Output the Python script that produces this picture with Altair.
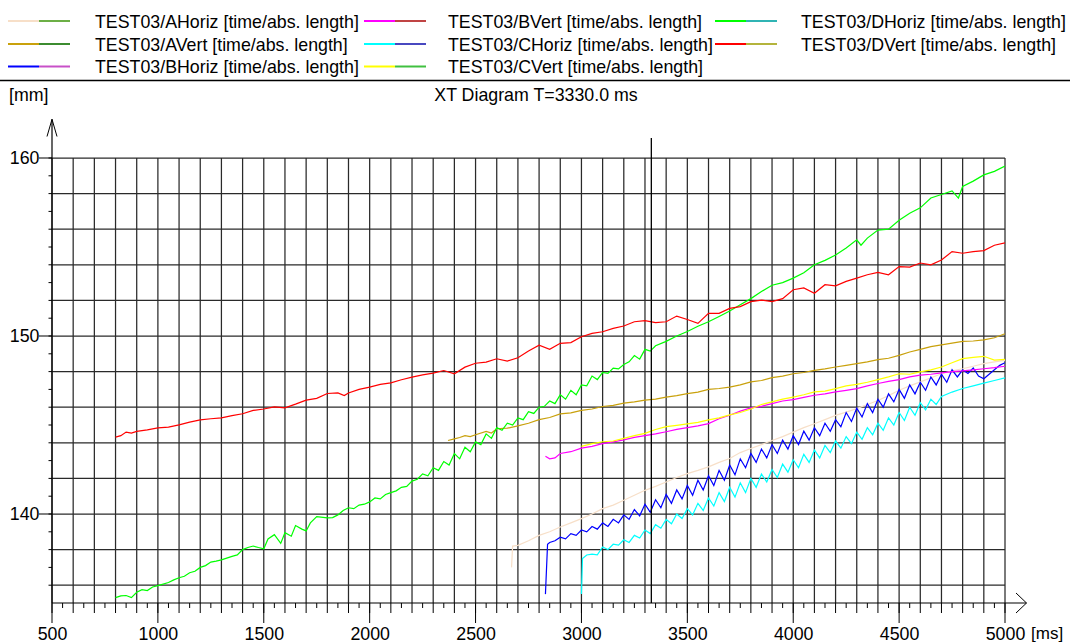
import altair as alt
import pandas as pd

# ---------------- data ----------------
SERIES = ["AHoriz", "AVert", "BHoriz", "BVert", "CHoriz", "CVert", "DHoriz", "DVert"]
LEGEND_LABELS = ["TEST03/" + s + " [time/abs. length]" for s in SERIES]
LINE_COLORS = ["#F7DFC8", "#C9A10C", "#0000FF", "#FF00FF", "#00FFFF", "#FFFF00", "#00FF00", "#FF0000"]
SWATCH_B = ["#6CAF46", "#3C8C30", "#C850C8", "#C04444", "#4848C0", "#40C040", "#30B4B4", "#B4B43C"]

AHORIZ = [(2670, 137.0), (2675, 138.2), (2700, 138.24), (2750, 138.5), (2800, 138.8), (2850, 139.0),
          (2900, 139.27), (2950, 139.5), (3000, 139.74), (3050, 140.0), (3100, 140.3), (3150, 140.5),
          (3200, 140.77), (3250, 141.05), (3300, 141.33), (3350, 141.55), (3400, 141.8), (3450, 142.05),
          (3500, 142.27), (3550, 142.45), (3600, 142.65), (3650, 142.9), (3700, 143.12), (3750, 143.45),
          (3800, 143.68), (3850, 143.9), (3900, 144.13), (3950, 144.35), (4000, 144.6), (4050, 144.85),
          (4100, 145.07), (4150, 145.3), (4200, 145.54), (4250, 145.72), (4300, 145.92), (4350, 146.15),
          (4400, 146.38), (4450, 146.65), (4500, 146.95), (4550, 147.2), (4600, 147.42), (4650, 147.65),
          (4700, 147.88), (4750, 148.05), (4800, 148.16), (4850, 148.3), (4900, 148.45), (4950, 148.55),
          (5000, 148.63)]

AVERT = [(2370, 144.13), (2400, 144.22), (2425, 144.3), (2450, 144.4), (2475, 144.35), (2500, 144.45),
         (2550, 144.64), (2575, 144.55), (2600, 144.79), (2650, 144.82), (2700, 144.95), (2750, 145.1),
         (2800, 145.3), (2850, 145.42), (2900, 145.62), (2950, 145.68), (3000, 145.82), (3050, 145.9),
         (3100, 146.04), (3150, 146.1), (3200, 146.23), (3250, 146.3), (3300, 146.4), (3350, 146.45),
         (3400, 146.57), (3450, 146.65), (3500, 146.76), (3550, 146.85), (3600, 147.0), (3650, 147.05),
         (3700, 147.13), (3750, 147.25), (3800, 147.42), (3850, 147.5), (3900, 147.66), (3950, 147.75),
         (4000, 147.88), (4050, 147.95), (4100, 148.07), (4150, 148.15), (4200, 148.26), (4250, 148.35),
         (4300, 148.45), (4350, 148.55), (4400, 148.67), (4450, 148.75), (4500, 148.91), (4550, 149.1),
         (4600, 149.25), (4650, 149.4), (4700, 149.5), (4750, 149.6), (4800, 149.7), (4850, 149.72),
         (4900, 149.78), (4950, 149.9), (5000, 150.13)]

BHORIZ = [(2830, 135.5), (2840, 138.3), (2850, 138.4), (2875, 138.5), (2900, 138.7), (2925, 138.6),
          (2950, 138.9), (2975, 138.8), (3000, 139.1), (3025, 139.0), (3050, 139.3), (3075, 139.15),
          (3100, 139.5), (3125, 139.3), (3150, 139.7), (3175, 139.5), (3200, 139.95), (3225, 139.7),
          (3250, 140.25), (3275, 139.9), (3300, 140.55), (3325, 140.1), (3350, 140.8), (3375, 140.35),
          (3400, 141.1), (3425, 140.6), (3450, 141.35), (3475, 140.85), (3500, 141.6), (3525, 141.05),
          (3550, 141.9), (3575, 141.35), (3600, 142.15), (3625, 141.6), (3650, 142.45), (3675, 141.9),
          (3700, 142.75), (3725, 142.2), (3750, 143.1), (3775, 142.6), (3800, 143.4), (3825, 142.9),
          (3850, 143.65), (3875, 143.15), (3900, 143.9), (3925, 143.4), (3950, 144.15), (3975, 143.65),
          (4000, 144.4), (4025, 143.9), (4050, 144.65), (4075, 144.15), (4100, 144.85), (4125, 144.4),
          (4150, 145.1), (4175, 144.65), (4200, 145.3), (4225, 144.9), (4250, 145.7), (4275, 145.2),
          (4300, 145.95), (4325, 145.45), (4350, 146.2), (4375, 145.7), (4400, 146.45), (4425, 146.0),
          (4450, 146.75), (4475, 146.3), (4500, 147.0), (4525, 146.5), (4550, 147.25), (4575, 146.75),
          (4600, 147.4), (4625, 146.95), (4650, 147.7), (4675, 147.25), (4700, 147.85), (4725, 147.4),
          (4750, 148.1), (4775, 147.7), (4800, 148.1), (4825, 147.9), (4850, 148.2), (4875, 147.75),
          (4900, 147.6), (4925, 147.85), (4950, 148.1), (4975, 148.35), (5000, 148.5)]

BVERT = [(2830, 143.25), (2850, 143.1), (2875, 143.15), (2900, 143.4), (2950, 143.5), (3000, 143.7),
         (3050, 143.8), (3100, 143.95), (3150, 144.05), (3200, 144.16), (3250, 144.3), (3300, 144.4),
         (3350, 144.5), (3400, 144.62), (3450, 144.75), (3500, 144.85), (3550, 144.95), (3600, 145.08),
         (3650, 145.35), (3700, 145.55), (3750, 145.78), (3800, 145.96), (3850, 146.05), (3900, 146.2),
         (3950, 146.35), (4000, 146.43), (4050, 146.55), (4100, 146.67), (4150, 146.75), (4200, 146.86),
         (4250, 146.95), (4300, 147.04), (4350, 147.2), (4400, 147.33), (4450, 147.45), (4500, 147.55),
         (4550, 147.7), (4600, 147.8), (4650, 147.85), (4700, 147.93), (4750, 148.0), (4800, 148.04),
         (4850, 148.1), (4900, 148.16), (4950, 148.22), (5000, 148.3)]

CHORIZ = [(3000, 135.5), (3005, 137.5), (3025, 137.7), (3050, 137.75), (3075, 137.7), (3100, 138.15),
          (3125, 138.0), (3150, 138.3), (3175, 138.25), (3200, 138.55), (3225, 138.4), (3250, 138.8),
          (3275, 138.65), (3300, 139.1), (3325, 138.9), (3350, 139.4), (3375, 139.2), (3400, 139.7),
          (3425, 139.45), (3450, 140.0), (3475, 139.75), (3500, 140.3), (3525, 139.95), (3550, 140.6),
          (3575, 140.2), (3600, 140.9), (3625, 140.45), (3650, 141.2), (3675, 140.7), (3700, 141.5),
          (3725, 140.95), (3750, 141.75), (3775, 141.2), (3800, 142.0), (3825, 141.5), (3850, 142.25),
          (3875, 141.8), (3900, 142.5), (3925, 142.05), (3950, 142.8), (3975, 142.35), (4000, 143.05),
          (4025, 142.6), (4050, 143.35), (4075, 142.9), (4100, 143.6), (4125, 143.15), (4150, 143.85),
          (4175, 143.45), (4200, 144.1), (4225, 143.7), (4250, 144.35), (4275, 143.95), (4300, 144.6),
          (4325, 144.2), (4350, 144.85), (4375, 144.45), (4400, 145.1), (4425, 144.7), (4450, 145.4),
          (4475, 145.0), (4500, 145.7), (4525, 145.25), (4550, 146.0), (4575, 145.55), (4600, 146.25),
          (4625, 145.85), (4650, 146.45), (4675, 146.15), (4700, 146.6), (4750, 146.85), (4800, 147.05),
          (4850, 147.2), (4900, 147.35), (4950, 147.5), (5000, 147.65)]

CVERT = [(3000, 143.8), (3050, 143.95), (3100, 144.06), (3150, 144.1), (3200, 144.25), (3250, 144.4),
         (3300, 144.53), (3350, 144.75), (3400, 144.91), (3450, 144.98), (3500, 145.06), (3550, 145.15),
         (3600, 145.29), (3650, 145.4), (3700, 145.57), (3750, 145.7), (3800, 145.9), (3850, 146.15),
         (3900, 146.3), (3950, 146.45), (4000, 146.57), (4050, 146.7), (4100, 146.86), (4150, 146.9),
         (4200, 147.04), (4250, 147.2), (4300, 147.28), (4350, 147.4), (4400, 147.55), (4450, 147.7),
         (4500, 147.88), (4550, 147.85), (4600, 147.98), (4650, 148.1), (4700, 148.26), (4750, 148.5),
         (4800, 148.73), (4850, 148.8), (4900, 148.86), (4950, 148.65), (5000, 148.69)]

DHORIZ = [(800, 135.3), (825, 135.4), (850, 135.42), (875, 135.3), (900, 135.6), (925, 135.75),
          (950, 135.7), (975, 135.9), (1000, 135.98), (1050, 136.15), (1075, 136.3), (1100, 136.42),
          (1125, 136.5), (1150, 136.7), (1175, 136.78), (1200, 137.0), (1225, 137.1), (1250, 137.3),
          (1275, 137.35), (1300, 137.42), (1350, 137.62), (1375, 137.7), (1400, 138.0), (1425, 138.12),
          (1450, 138.2), (1475, 138.12), (1500, 138.05), (1520, 138.6), (1550, 138.84), (1580, 138.35),
          (1600, 138.95), (1630, 138.75), (1650, 139.35), (1680, 139.15), (1700, 139.05), (1720, 139.5),
          (1750, 139.85), (1800, 139.78), (1825, 139.8), (1850, 139.95), (1875, 140.2), (1900, 140.35),
          (1925, 140.3), (1950, 140.5), (1975, 140.55), (2000, 140.68), (2025, 140.9), (2050, 140.85),
          (2075, 141.1), (2100, 141.2), (2125, 141.3), (2150, 141.5), (2175, 141.55), (2200, 141.85),
          (2225, 141.95), (2250, 142.25), (2275, 142.15), (2300, 142.6), (2325, 142.45), (2350, 142.95),
          (2375, 142.75), (2400, 143.4), (2425, 143.1), (2450, 143.75), (2475, 143.5), (2500, 144.05),
          (2525, 143.9), (2550, 144.5), (2575, 144.25), (2600, 144.85), (2625, 144.7), (2650, 145.1),
          (2675, 145.0), (2700, 145.4), (2725, 145.3), (2750, 145.75), (2775, 145.65), (2800, 146.0),
          (2825, 146.05), (2850, 146.35), (2875, 146.2), (2900, 146.7), (2925, 146.45), (2950, 146.95),
          (2975, 146.7), (3000, 147.25), (3025, 147.2), (3050, 147.75), (3075, 147.55), (3100, 147.95),
          (3125, 147.9), (3150, 148.2), (3175, 148.15), (3200, 148.4), (3225, 148.55), (3250, 148.9),
          (3275, 148.7), (3300, 149.25), (3325, 149.15), (3350, 149.45), (3400, 149.7), (3450, 150.0),
          (3500, 150.25), (3550, 150.55), (3600, 150.8), (3650, 151.1), (3700, 151.4), (3750, 151.75),
          (3800, 152.1), (3850, 152.5), (3900, 152.85), (3950, 153.0), (4000, 153.25), (4050, 153.55),
          (4100, 154.0), (4150, 154.25), (4200, 154.55), (4250, 154.95), (4300, 155.4), (4320, 155.1),
          (4350, 155.5), (4400, 155.95), (4450, 156.0), (4500, 156.5), (4550, 156.9), (4600, 157.2),
          (4650, 157.75), (4700, 157.95), (4750, 158.15), (4780, 157.75), (4800, 158.4), (4850, 158.7),
          (4900, 159.05), (4950, 159.25), (5000, 159.55)]

DVERT = [(800, 144.32), (825, 144.4), (850, 144.6), (875, 144.55), (900, 144.64), (950, 144.73),
         (1000, 144.84), (1050, 144.88), (1100, 145.01), (1150, 145.16), (1200, 145.29), (1250, 145.35),
         (1300, 145.4), (1350, 145.53), (1400, 145.63), (1450, 145.82), (1500, 145.9), (1550, 146.02),
         (1600, 145.96), (1650, 146.17), (1700, 146.4), (1750, 146.5), (1800, 146.77), (1850, 146.8),
         (1880, 146.65), (1900, 146.8), (1950, 147.0), (2000, 147.13), (2050, 147.28), (2100, 147.37),
         (2150, 147.54), (2200, 147.69), (2250, 147.82), (2300, 147.91), (2350, 148.06), (2400, 147.88),
         (2450, 148.25), (2500, 148.47), (2550, 148.53), (2600, 148.72), (2650, 148.59), (2700, 148.78),
         (2750, 149.16), (2800, 149.48), (2850, 149.25), (2900, 149.59), (2950, 149.63), (3000, 149.96),
         (3050, 150.15), (3100, 150.24), (3150, 150.43), (3200, 150.56), (3250, 150.8), (3300, 150.86),
         (3350, 150.75), (3400, 150.8), (3450, 151.12), (3500, 150.93), (3550, 150.71), (3600, 151.27),
         (3650, 151.27), (3700, 151.55), (3750, 151.65), (3800, 151.93), (3850, 152.02), (3900, 151.93),
         (3950, 152.1), (4000, 152.6), (4050, 152.7), (4100, 152.4), (4150, 152.88), (4200, 152.82),
         (4250, 153.07), (4300, 153.25), (4350, 153.44), (4400, 153.57), (4450, 153.44), (4500, 153.9),
         (4550, 153.87), (4600, 154.1), (4650, 154.0), (4700, 154.27), (4750, 154.74), (4800, 154.65),
         (4850, 154.74), (4900, 154.8), (4950, 155.1), (5000, 155.23)]

SERIES_DATA = [AHORIZ, AVERT, BHORIZ, BVERT, CHORIZ, CVERT, DHORIZ, DVERT]

CURSOR_MS = 3330
TITLE = "XT Diagram T=3330.0 ms"
Y_UNIT = "[mm]"
X_UNIT = "[ms]"

X_DOMAIN = [500, 5000]
Y_DOMAIN = [135, 160]
X_LABELS = list(range(500, 5001, 500))
X_GRID = list(range(500, 5001, 100))
X_TICK50 = list(range(550, 5000, 100))
Y_LABELS = [140, 150, 160]
Y_GRID = list(range(136, 161, 2))
Y_TICK1 = list(range(136, 161, 1))

# ---------------- layout / style ----------------
W, H = 953, 445
PAD = {"left": 52, "top": 158, "right": 65, "bottom": 41}
FONT = "Liberation Sans"
GRID = "#2a2a2a"
INK = "#000000"
FS = 17.8

xs = alt.Scale(domain=X_DOMAIN, nice=False, zero=False)
ys = alt.Scale(domain=Y_DOMAIN, nice=False, zero=False)
X_AXIS = alt.Axis(values=X_LABELS, title=None, grid=False, ticks=False, domain=False, format="d",
                  labelFontSize=FS, labelFont=FONT, labelColor=INK, labelPadding=22,
                  labelFlush=False, labelOverlap=False)
Y_AXIS = alt.Axis(values=Y_LABELS, title=None, grid=False, ticks=False, domain=False, format="d",
                  labelFontSize=FS, labelFont=FONT, labelColor=INK, labelPadding=13)

ONE = pd.DataFrame({"k": [0]})


def vals(lst):
    return pd.DataFrame({"v": lst})


def X(f):
    return alt.X(f, type="quantitative", scale=xs, axis=X_AXIS)


def Y(f):
    return alt.Y(f, type="quantitative", scale=ys, axis=Y_AXIS)


def seg(x1, y1, x2, y2, w=1.0):
    return alt.Chart(ONE).mark_rule(color=INK, strokeWidth=w).encode(
        x=alt.value(x1), y=alt.value(y1), x2=alt.value(x2), y2=alt.value(y2))


def txt(s, x, y, align="left", size=FS):
    return alt.Chart(ONE).mark_text(text=s, font=FONT, fontSize=size, color=INK,
                                    align=align, baseline="alphabetic").encode(
        x=alt.value(x), y=alt.value(y))


layers = []
# grid
layers.append(alt.Chart(vals(X_GRID)).mark_rule(color=GRID, strokeWidth=1.25).encode(x=X("v")))
layers.append(alt.Chart(vals(Y_GRID)).mark_rule(color=GRID, strokeWidth=1.25).encode(y=Y("v")))

# series lines
rows = []
for name, pts in zip(SERIES, SERIES_DATA):
    for t, v in pts:
        rows.append({"s": name, "t": t, "v": v})
df = pd.DataFrame(rows)
layers.append(alt.Chart(df).mark_line(strokeWidth=1.2, clip=True).encode(
    x=X("t"), y=Y("v"),
    color=alt.Color("s:N", scale=alt.Scale(domain=SERIES, range=LINE_COLORS), legend=None),
    order=alt.Order("t:Q")))

# cursor
layers.append(alt.Chart(pd.DataFrame({"v": [CURSOR_MS]})).mark_rule(color=INK, strokeWidth=1.3).encode(
    x=X("v"), y=alt.value(-20), y2=alt.value(H)))

# x ticks
layers.append(alt.Chart(vals(X_TICK50)).mark_rule(color=INK).encode(x=X("v"), y=alt.value(H), y2=alt.value(H + 5)))
layers.append(alt.Chart(vals(X_GRID)).mark_rule(color=INK).encode(x=X("v"), y=alt.value(H), y2=alt.value(H + 10)))
layers.append(alt.Chart(vals(X_LABELS)).mark_rule(color=INK).encode(x=X("v"), y=alt.value(H), y2=alt.value(H + 20)))
# y ticks
layers.append(alt.Chart(vals(Y_TICK1)).mark_rule(color=INK).encode(y=Y("v"), x=alt.value(-3.5), x2=alt.value(0)))
layers.append(alt.Chart(vals(Y_LABELS)).mark_rule(color=INK).encode(y=Y("v"), x=alt.value(-13), x2=alt.value(0)))

# axis lines with arrows
layers.append(seg(0, H, 974.5, H, 1.2))
layers.append(seg(0, -38.7, 0, H, 1.2))
layers.append(seg(-5, -21.5, 0, -38.7))
layers.append(seg(5, -21.5, 0, -38.7))
layers.append(seg(964, H - 10, 974.5, H))
layers.append(seg(964, H + 10, 974.5, H))

# unit labels and title
layers.append(txt(X_UNIT, 979, 481, size=17))
layers.append(txt(Y_UNIT, -43, -57))
layers.append(txt(TITLE, 484, -57, align="center"))
# separator line under legend
layers.append(seg(-52, -77.5, 1018, -77.5, 1.5))

# legend (3 rows x 3 columns, column-major)
SW_X = [-44, 312, 663]
TX_X = [43, 396, 749]
SW_Y = [-137, -114, -91.5]
TX_Y = [-130, -107, -85]
for i, (lab, ca, cb) in enumerate(zip(LEGEND_LABELS, LINE_COLORS, SWATCH_B)):
    c, r = i // 3, i % 3
    x0 = SW_X[c]
    layers.append(alt.Chart(ONE).mark_rule(color=ca, strokeWidth=2).encode(
        x=alt.value(x0), x2=alt.value(x0 + 31), y=alt.value(SW_Y[r])))
    layers.append(alt.Chart(ONE).mark_rule(color=cb, strokeWidth=2).encode(
        x=alt.value(x0 + 31), x2=alt.value(x0 + 62), y=alt.value(SW_Y[r])))
    layers.append(txt(lab, TX_X[c], TX_Y[r]))

chart = alt.layer(*layers).properties(
    width=W, height=H, padding=PAD,
    autosize=alt.AutoSizeParams(type="none"),
    background="white",
).configure_view(stroke=None)

chart.save("out.html", embed_options={"renderer": "svg", "actions": False})
